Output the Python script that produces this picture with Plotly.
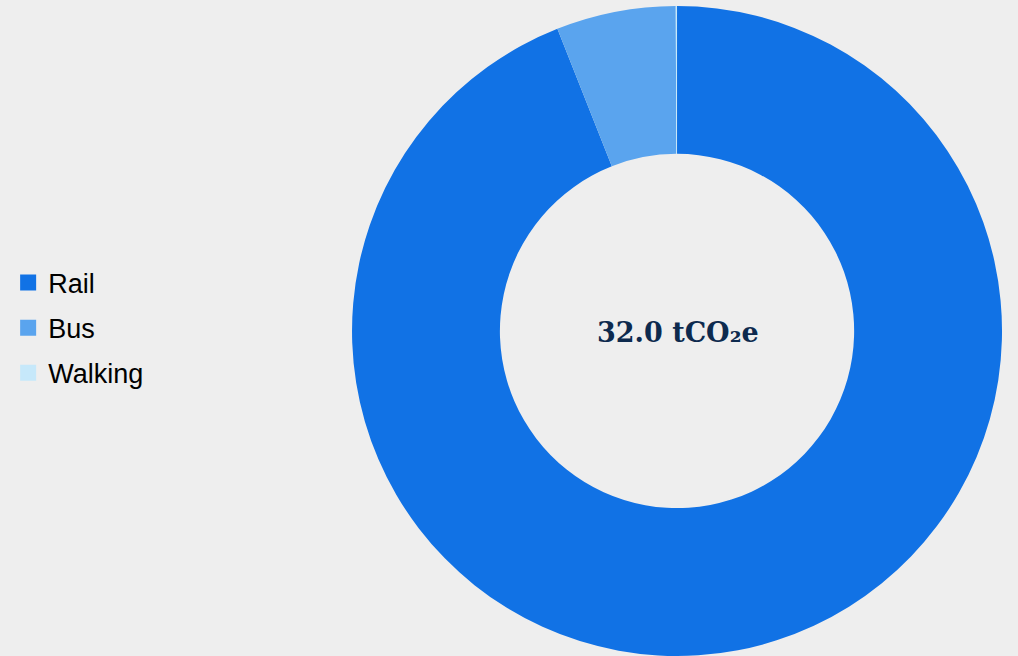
import plotly.graph_objects as go

categories = ["Rail", "Bus", "Walking"]
values = [30.08, 1.90, 0.02]
colors = ["#1172e5", "#5aa4ee", "#c6e8fa"]
center_label = "32.0 tCO₂e"

fig = go.Figure()
fig.add_trace(
    go.Pie(
        labels=categories,
        values=values,
        hole=0.545,
        sort=False,
        direction="clockwise",
        rotation=0,
        marker=dict(colors=colors, line=dict(width=0)),
        textinfo="none",
        showlegend=False,
        domain=dict(x=[0.3458, 0.9843], y=[0.0, 0.9909]),
    )
)

# legend entries (square swatches) tied to the same categories/colours
for name, col in zip(categories, colors):
    fig.add_trace(
        go.Scatter(
            x=[None],
            y=[None],
            mode="markers",
            name=name,
            legendgroup=name,
            marker=dict(symbol="square", size=16, color=col),
            showlegend=True,
            hoverinfo="skip",
        )
    )

fig.update_layout(
    width=1018,
    height=656,
    margin=dict(l=0, r=0, t=0, b=0),
    paper_bgcolor="#eeeeee",
    plot_bgcolor="#eeeeee",
    xaxis=dict(visible=False),
    yaxis=dict(visible=False),
    showlegend=True,
    legend=dict(
        x=0.008,
        xanchor="left",
        y=0.5,
        yanchor="middle",
        font=dict(family="Liberation Sans, Arial, sans-serif", size=27, color="#000000"),
        bgcolor="rgba(0,0,0,0)",
        itemsizing="trace",
        itemwidth=30,
        tracegroupgap=7,
    ),
    annotations=[
        dict(
            text="<b>" + center_label + "</b>",
            x=0.666,
            y=0.493,
            xref="paper",
            yref="paper",
            showarrow=False,
            font=dict(family="DejaVu Serif, Liberation Serif, serif", size=27, color="#0d2a4e"),
        )
    ],
)

fig.write_html(
    "out.html",
    config={"displayModeBar": False},
    post_script="document.body.style.margin='0';",
)
